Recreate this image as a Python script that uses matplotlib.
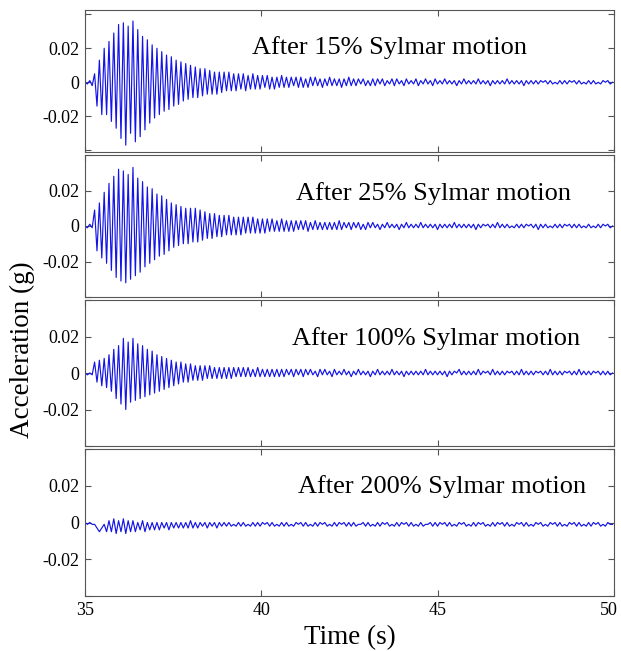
import matplotlib
matplotlib.use("Agg")
import matplotlib.pyplot as plt
import matplotlib.transforms as mtransforms
import numpy as np

# free-vibration records after each Sylmar run, peak/trough readings in mg
# one reading every half cycle (dt seconds), starting at t0
t0 = 35.0
dt = 0.068

acc_15 = [
    0, -1, 1, -2, 5, -14, 13, -19, 20, -19,
    24, -23, 29, -27, 34, -33, 35, -37, 33, -30,
    36, -35, 31, -32, 27, -28, 25, -24, 22, -21,
    20, -19, 18, -17, 16, -16, 15, -14, 13, -13,
    12, -11, 11, -10, 10, -9, 9, -9, 8, -8,
    8, -7, 7, -7, 6, -7, 6, -6, 6, -5,
    6, -5, 5, -5, 5, -4, 5, -5, 4, -4,
    5, -4, 4, -4, 4, -3, 4, -4, 3, -4,
    3, -3, 4, -3, 3, -3, 3, -2, 3, -3,
    3, -3, 2, -3, 3, -2, 3, -2, 2, -3,
    2, -2, 3, -2, 2, -2, 2, -3, 2, -2,
    3, -2, 2, -2, 2, -1, 2, -2, 1, -2,
    2, -2, 2, -1, 2, -2, 1, -1, 2, -2,
    2, -1, 1, -2, 2, -1, 1, -1, 2, -2,
    1, -1, 2, -1, 1, -2, 2, -1, 1, -1,
    2, -1, 1, -1, 1, -2, 1, -1, 2, -1,
    1, -1, 1, -1, 2, -1, 1, -1, 1, -2,
    1, -1, 1, -1, 1, -1, 2, -1, 1, -1,
    1, -1, 1, -2, 1, -1, 1, -1, 1, -1,
    1, 0, 1, -1, 1, -1, 0, -1, 1, -1,
    1, -1, 1, 0, 1, -1, 1, -1, 0, -1,
    1, -1, 1, -1, 0, -1, 1, 0, 1, -1, 0,
]

acc_25 = [
    0, -1, 1, -1, 9, -14, 13, -18, 19, -21,
    24, -25, 28, -29, 32, -31, 31, -32, 29, -30,
    33, -28, 27, -26, 25, -23, 22, -21, 21, -19,
    18, -17, 17, -16, 15, -14, 13, -12, 12, -11,
    11, -10, 10, -10, 10, -9, 10, -9, 9, -8,
    8, -7, 7, -7, 7, -6, 6, -6, 6, -5,
    6, -5, 5, -5, 5, -5, 5, -4, 5, -4,
    5, -4, 4, -4, 4, -4, 4, -3, 4, -3,
    3, -3, 4, -3, 3, -3, 3, -3, 3, -2,
    3, -2, 3, -3, 2, -2, 3, -2, 2, -2,
    2, -2, 2, -2, 2, -2, 3, -2, 2, -1,
    2, -2, 2, -1, 2, -2, 1, -2, 2, -1,
    2, -1, 1, -2, 1, -1, 2, -1, 1, -1,
    1, -2, 1, -1, 2, -1, 1, -1, 1, -1,
    2, -1, 1, -1, 1, -1, 1, -2, 1, -1,
    1, -1, 1, -1, 2, -1, 1, -1, 1, -1,
    1, -1, 1, -2, 1, -1, 1, 0, 1, -1,
    1, -1, 2, -1, 1, -1, 1, -1, 0, -1,
    1, -1, 1, -1, 1, 0, 1, -1, 1, -2,
    1, -1, 1, -1, 0, -1, 1, -1, 1, -1,
    1, 0, 1, -1, 1, -1, 1, -1, 0, -1,
    1, -1, 0, -1, 1, -1, 1, 0, 1, -1, 0,
]

acc_100 = [
    0, -1, 0, -1, 6, -5, 7, -7, 8, -8,
    10, -10, 13, -14, 15, -17, 19, -20, 17, -16,
    19, -15, 16, -14, 15, -13, 13, -12, 12, -11,
    10, -10, 9, -9, 8, -8, 7, -7, 6, -6,
    6, -5, 5, -5, 5, -4, 4, -4, 4, -4,
    4, -3, 4, -3, 3, -3, 3, -3, 3, -3,
    3, -3, 3, -2, 3, -2, 3, -2, 3, -2,
    2, -2, 3, -2, 2, -2, 2, -2, 2, -2,
    2, -2, 2, -2, 2, -1, 2, -2, 2, -1,
    2, -2, 2, -1, 2, -1, 1, -2, 2, -1,
    2, -1, 1, -2, 2, -1, 1, -1, 2, -1,
    1, -2, 1, -1, 2, -1, 1, -1, 1, -2,
    1, -1, 2, -1, 1, -1, 1, -1, 2, -1,
    1, -1, 1, -2, 1, -1, 1, -1, 1, -1,
    1, -1, 2, -1, 1, -1, 1, -1, 1, -1,
    1, -2, 1, -1, 1, 0, 2, -1, 1, -1,
    1, -1, 1, -1, 2, -1, 1, 0, 1, -1,
    2, -1, 1, -1, 1, -1, 1, 0, 1, -1,
    1, -1, 2, -1, 1, -1, 1, -1, 1, 0,
    1, -1, 1, -1, 2, -1, 1, -1, 1, -1,
    1, 0, 1, -1, 1, -1, 2, -1, 1, -1,
    1, -1, 1, 0, 1, -1, 1, -1, 1, -1, 0,
]

acc_200 = [
    0, -1, 0, -1, -1, -3, -5, -3, -1, -5,
    1, -5, 2, -6, 1, -5, 2, -6, 1, -5,
    1, -5, 0, -4, 1, -5, 0, -4, 0, -4,
    0, -4, 0, -3, 0, -4, 0, -3, 0, -3,
    0, -3, 0, -3, 1, -3, 0, -3, 0, -2,
    0, -3, 0, -2, 0, -3, 0, -2, 0, -2,
    0, -2, -1, -2, 0, -2, 0, -2, -1, -2,
    0, -2, 0, -2, 0, -1, 0, -2, 0, -2,
    -1, -2, 0, -2, 0, -2, -1, -2, 0, -1,
    0, -2, 0, -2, -1, -2, 0, -2, 0, -1,
    0, -2, -1, -2, 0, -2, 0, -1, 0, -2,
    0, -2, 0, -2, -1, -1, 0, -2, 0, -2,
    -1, -2, 0, -2, 0, -1, 0, -2, -1, -2,
    0, -2, 0, -1, 0, -2, 0, -2, -1, -2,
    0, -2, -1, -1, 0, -2, 0, -2, 0, -1,
    0, -2, 0, -2, -1, -2, 0, -1, 0, -2,
    -1, -2, 0, -2, 0, -1, 0, -2, -1, -2,
    0, -2, 0, -1, 0, -2, 0, -2, -1, -2,
    0, -1, 0, -2, 0, -2, -1, -2, 0, -1,
    0, -2, -1, -2, 0, -1, 0, -2, 0, -2,
    -1, -2, 0, -1, 0, -2, 0, -2, -1, -2,
    0, -2, 0, -1, 0, -2, -1, -2, 0, -1, -1,
]

records = [acc_15, acc_25, acc_100, acc_200]
titles = ['After 15% Sylmar motion', 'After 25% Sylmar motion',
          'After 100% Sylmar motion', 'After 200% Sylmar motion']
ylims = [(-0.041, 0.0425), (-0.037, 0.040), (-0.039, 0.039), (-0.0397, 0.0392)]
yticks = [-0.04, -0.02, 0, 0.02, 0.04]
ytick_labels = ['', '-0.02', '0', '0.02', '']
xticks = [35, 40, 45, 50]

# panel boxes in pixels (top, bottom) of the 621x651 figure
W, H = 621, 651
boxes = [(10, 152), (155, 297), (300, 446), (449, 596)]
text_pos = [(39.74, 0.69), (40.99, 0.683), (40.88, 0.692), (41.05, 0.70)]

plt.rcParams['font.family'] = ['Liberation Serif', 'DejaVu Serif']

fig = plt.figure(figsize=(W / 100, H / 100), dpi=100)
for i, rec in enumerate(records):
    top, bot = boxes[i]
    ax = fig.add_axes([85 / W, 1 - bot / H, 529 / W, (bot - top) / H])
    a = np.array(rec) / 1000.0
    t = t0 + dt * np.arange(len(a))
    ax.plot(t, a, color='#1414e6', lw=0.85)
    ax.set_xlim(35, 50)
    ax.set_ylim(*ylims[i])
    ax.set_yticks(yticks)
    ax.set_yticklabels(ytick_labels)
    ax.set_xticks(xticks)
    ax.tick_params(direction='in', top=True, right=True, length=4,
                   width=0.8, color='#555555', labelsize=13, pad=4)
    if i < 3:
        ax.set_xticklabels([])
    else:
        # nudge the last label so it stays inside the figure
        lab = ax.get_xticklabels()[-1]
        lab.set_transform(lab.get_transform() +
                          mtransforms.ScaledTranslation(-5 / 100, 0, fig.dpi_scale_trans))
    for s in ax.spines.values():
        s.set_color('#555555')
        s.set_linewidth(0.8)
    tx, ty = text_pos[i]
    ax.text(tx, ty, titles[i], transform=ax.get_xaxis_transform(),
            fontsize=19, va='baseline', ha='left')

fig.text(349.5 / W, 7 / H, 'Time (s)', fontsize=19.5, ha='center', va='baseline')
fig.text(22 / W, 1 - 350 / H, 'Acceleration (g)', fontsize=19.5,
         rotation=90, ha='center', va='center')

fig.savefig('out.png', dpi=100)
